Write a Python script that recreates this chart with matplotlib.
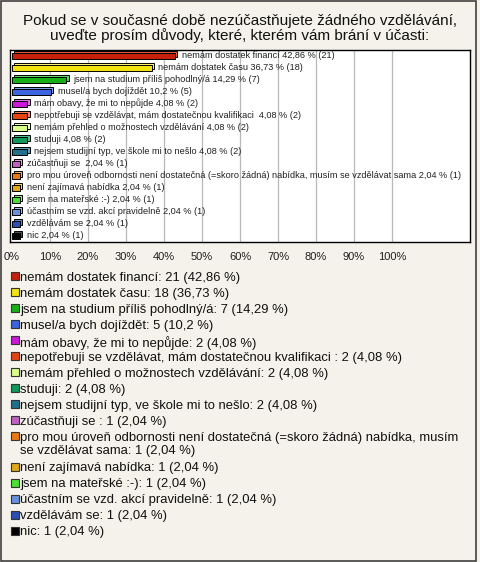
import textwrap
import matplotlib
matplotlib.use("Agg")
import matplotlib.pyplot as plt
from matplotlib.patches import Rectangle
from matplotlib.transforms import offset_copy

plt.rcParams['font.family'] = ['Liberation Sans', 'DejaVu Sans']

# data
title = ("Pokud se v současné době nezúčastňujete žádného vzdělávání,\n"
         "uveďte prosím důvody, které, kterém vám brání v účasti:")
labels = [
    "nemám dostatek financí",
    "nemám dostatek času",
    "jsem na studium příliš pohodlný/á",
    "musel/a bych dojíždět",
    "mám obavy, že mi to nepůjde",
    "nepotřebuji se vzdělávat, mám dostatečnou kvalifikaci ",
    "nemám přehled o možnostech vzdělávání",
    "studuji",
    "nejsem studijní typ, ve škole mi to nešlo",
    "zúčastňuji se ",
    "pro mou úroveň odbornosti není dostatečná (=skoro žádná) nabídka, musím se vzdělávat sama",
    "není zajímavá nabídka",
    "jsem na mateřské :-)",
    "účastním se vzd. akcí pravidelně",
    "vzdělávám se",
    "nic",
]
counts = [21, 18, 7, 5, 2, 2, 2, 2, 2, 1, 1, 1, 1, 1, 1, 1]
respondents = 49
colors = ["#c4200c", "#f2e210", "#16b016", "#3c64e0", "#c818d8", "#e44412",
          "#d8ff88", "#10985a", "#20708c", "#c060c0", "#e87810", "#e0a818",
          "#48e030", "#6890e0", "#2850b0", "#000000"]
tops = ["#e05a40", "#fff470", "#60d860", "#7c9cf0", "#e070ec", "#f08060",
        "#eeffc0", "#50c090", "#5aa0bc", "#e0a0e0", "#f8b060", "#f0d060",
        "#90f080", "#a0c0f0", "#6088d8", "#505050"]
ticks = list(range(0, 101, 10))

pcts = [round(c / respondents * 100, 2) for c in counts]
pct_txt = [f"{p:g}".replace(".", ",") for p in pcts]

bg = "#f4f2ea"
fig = plt.figure(figsize=(4.8, 5.62), dpi=100, facecolor=bg)
W, H = 480, 562

# bar chart area
ax = fig.add_axes([10 / W, 1 - 242 / H, 460 / W, 192 / H])
ax.set_facecolor("white")
ypos = list(range(len(labels)))

back = ax.barh(ypos, pcts, height=0.45, color=tops, edgecolor="black", linewidth=0.7, zorder=3)
for p in back:
    p.set_transform(offset_copy(ax.transData, fig=fig, x=2.5, y=2, units="dots"))
ax.barh(ypos, pcts, height=0.45, color=colors, edgecolor="black", linewidth=0.7, zorder=4)

for i in ypos:
    ax.annotate(f"{labels[i]} {pct_txt[i]} % ({counts[i]})", (pcts[i], i),
                xytext=(5, 0.5), textcoords="offset points", va="center",
                fontsize=6.6, color="#202020", zorder=5)

for t in ticks[1:]:
    ax.axvline(t, color="#b8b8b8", lw=0.9, zorder=1)

ax.set_xlim(-0.5, 120.5)
ax.set_ylim(len(labels) - 0.5, -0.5)
ax.set_yticks([])
ax.set_xticks(ticks)
ax.set_xticklabels([f"{t}%" for t in ticks], fontsize=8, color="#202020")
ax.tick_params(axis="x", length=0, pad=7.5)
for s in ax.spines.values():
    s.set_color("black")
    s.set_linewidth(1)

# overlay for title, legend and frame (pixel coordinates)
ov = fig.add_axes([0, 0, 1, 1], facecolor="none")
ov.set_xlim(0, W)
ov.set_ylim(H, 0)
ov.axis("off")

ov.text(240, 28.5, title, ha="center", va="center", fontsize=11,
        color="#111111", linespacing=1.05)

y = 276
for i, lab in enumerate(labels):
    txt = textwrap.fill(f"{lab}: {counts[i]} ({pct_txt[i]} %)", 72)
    ov.add_patch(Rectangle((10.5, y - 4), 8, 8, facecolor=colors[i],
                           edgecolor="#333333", lw=0.8))
    ov.text(20, y - 4, txt, fontsize=9.4, va="top", ha="left", color="#111111",
            linespacing=1.08)
    y += 16 + 14.5 * txt.count("\n")

ov.add_patch(Rectangle((1, 1), 475, 560, facecolor="none", edgecolor="#404040", lw=1.2))

fig.savefig("out.png", dpi=100, facecolor=bg)
